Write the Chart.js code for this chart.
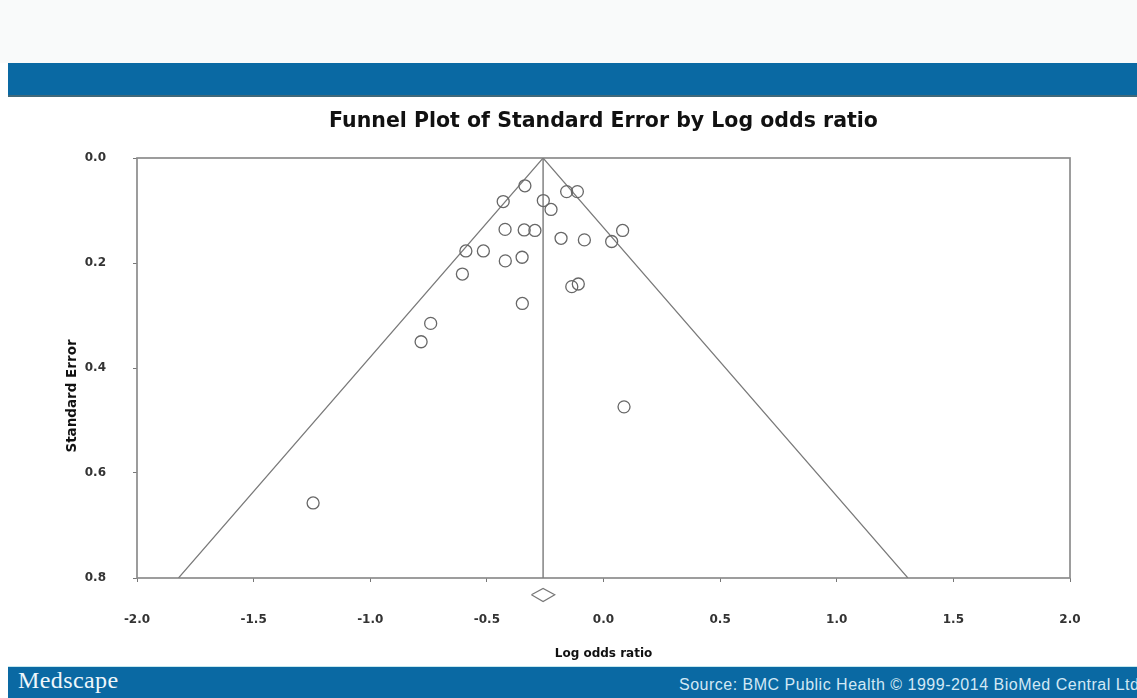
<!DOCTYPE html>
<html>
<head>
<meta charset="utf-8">
<title>Funnel Plot of Standard Error by Log odds ratio</title>
<script src="https://cdn.jsdelivr.net/npm/chart.js@4.4.1/dist/chart.umd.min.js"></script>
<style>
  html, body { margin: 0; padding: 0; background: #ffffff; }
  body { width: 1137px; height: 698px; position: relative; overflow: hidden;
         font-family: "Liberation Sans", Arial, sans-serif; }
  #top { position: absolute; left: 0; top: 0; width: 1137px; height: 63px; background: #f9fafa; }
  #band { position: absolute; left: 8px; top: 63px; width: 1129px; height: 32px;
          background: #0a69a3; border-bottom: 2px solid #41697a; }
  #wrap { position: absolute; left: 0; top: 97px; width: 1137px; height: 570px; }
  #foot { position: absolute; left: 8px; top: 666px; width: 1129px; height: 32px;
          background: #0a69a3; border-top: 1px solid #c4e8ee; }
  #logo { position: absolute; left: 10px; top: 0px; font-family: "Liberation Serif", "DejaVu Serif", serif;
          font-size: 24px; color: #eef6fb; letter-spacing: 0.4px; }
  #src { position: absolute; left: 671px; top: 9px; font-size: 16px; color: #d2e8f5;
         letter-spacing: 0.5px; white-space: nowrap; }
</style>
</head>
<body>
<div id="top"></div>
<div id="band"></div>
<div id="wrap"><canvas id="funnel" width="1137" height="570"></canvas></div>
<div id="foot">
  <div id="logo">Medscape</div>
  <div id="src">Source: BMC Public Health © 1999-2014 BioMed Central Ltd</div>
</div>
<script>
// Study estimates: log odds ratio and its standard error
const logOddsRatio = [
  -0.337, -0.430, -0.158, -0.112, -0.258, -0.225, -0.422, -0.340, -0.294,
  -0.182, -0.082, 0.035, 0.082, -0.590, -0.515, -0.421, -0.349, -0.605,
  -0.136, -0.108, -0.348, -0.741, -0.782, -1.245, 0.088
];
const standardError = [
  0.053, 0.083, 0.064, 0.064, 0.081, 0.098, 0.136, 0.137, 0.138,
  0.153, 0.156, 0.159, 0.138, 0.177, 0.177, 0.196, 0.189, 0.221,
  0.245, 0.240, 0.277, 0.315, 0.350, 0.657, 0.474
];

// Pooled estimate line and 95% pseudo-confidence funnel
const pooledX = [-0.259, -0.259];
const pooledY = [0.0, 0.8];
const funnelX = [-1.822, -0.259, 1.305];
const funnelY = [0.8, 0.0, 0.8];

// Diamond for the pooled estimate, below the axis
const diamondX = [-0.309, -0.259, -0.209, -0.259, -0.309];
const diamondY = [0.832, 0.820, 0.832, 0.845, 0.832];

// Axis ticks
const xTicks = [-2.0, -1.5, -1.0, -0.5, 0.0, 0.5, 1.0, 1.5, 2.0];
const yTicks = [0.0, 0.2, 0.4, 0.6, 0.8];

const toPoints = (xs, ys) => xs.map((x, i) => ({ x: x, y: ys[i] }));

const lineGray = '#7a7a7a';
const fontFamily = '"DejaVu Sans", "Liberation Sans", Arial, sans-serif';
const tickFont = { family: fontFamily, size: 12, weight: 'bold' };

// Frame around the plotting area
const plotFrame = {
  id: 'plotFrame',
  beforeDatasetsDraw(chart) {
    const a = chart.chartArea, ctx = chart.ctx;
    ctx.save();
    ctx.strokeStyle = '#8c8c8c';
    ctx.lineWidth = 1.7;
    ctx.strokeRect(a.left, a.top, a.right - a.left, a.bottom - a.top);
    ctx.restore();
  }
};

// Vertical y-axis title
const yTitle = {
  id: 'yTitle',
  afterDraw(chart) {
    const ctx = chart.ctx;
    ctx.save();
    ctx.translate(72, 299);
    ctx.rotate(-Math.PI / 2);
    ctx.font = 'bold 13.5px ' + fontFamily;
    ctx.fillStyle = '#111';
    ctx.textAlign = 'center';
    ctx.textBaseline = 'middle';
    ctx.fillText('Standard Error', 0, 0);
    ctx.restore();
  }
};

new Chart(document.getElementById('funnel'), {
  type: 'scatter',
  data: {
    datasets: [
      {
        label: 'Studies',
        data: toPoints(logOddsRatio, standardError),
        pointRadius: 6,
        pointBorderWidth: 1.3,
        pointBorderColor: '#676767',
        pointBackgroundColor: 'rgba(0,0,0,0)',
        showLine: false
      },
      {
        label: 'Pooled',
        data: toPoints(pooledX, pooledY),
        showLine: true,
        pointRadius: 0,
        borderColor: lineGray,
        borderWidth: 1.4
      },
      {
        label: 'Funnel',
        data: toPoints(funnelX, funnelY),
        showLine: true,
        pointRadius: 0,
        borderColor: lineGray,
        borderWidth: 1.2
      },
      {
        label: 'Diamond',
        data: toPoints(diamondX, diamondY),
        showLine: true,
        pointRadius: 0,
        borderColor: '#777',
        borderWidth: 1.2,
        clip: false
      }
    ]
  },
  options: {
    responsive: false,
    animation: false,
    layout: { padding: { left: 0, right: 67, top: 0, bottom: 0 } },
    plugins: {
      legend: { display: false },
      tooltip: { enabled: false },
      title: {
        display: true,
        text: 'Funnel Plot of Standard Error by Log odds ratio',
        fullSize: false,
        color: '#111',
        font: { family: fontFamily, size: 20.5, weight: 'bold' },
        padding: { top: 12.7, bottom: 23.7 }
      }
    },
    scales: {
      x: {
        type: 'linear',
        min: xTicks[0],
        max: xTicks[xTicks.length - 1],
        afterBuildTicks: s => { s.ticks = xTicks.map(v => ({ value: v })); },
        afterFit: s => { s.height = 89; },
        ticks: {
          color: '#333',
          font: tickFont,
          padding: 31,
          maxRotation: 0,
          callback: v => Number(v).toFixed(1)
        },
        grid: { drawOnChartArea: false, drawTicks: true, tickLength: 4, color: '#777' },
        border: { display: false },
        title: {
          display: true,
          text: 'Log odds ratio',
          color: '#111',
          font: { family: fontFamily, size: 12, weight: 'bold' },
          padding: { top: 0, bottom: 6 }
        }
      },
      y: {
        type: 'linear',
        reverse: true,
        min: yTicks[0],
        max: yTicks[yTicks.length - 1],
        afterBuildTicks: s => { s.ticks = yTicks.map(v => ({ value: v })); },
        afterFit: s => { s.width = 137; },
        ticks: {
          color: '#333',
          font: tickFont,
          padding: 27,
          callback: v => Number(v).toFixed(1)
        },
        grid: { drawOnChartArea: false, drawTicks: true, tickLength: 4, color: '#777' },
        border: { display: false },
        title: { display: false }
      }
    }
  },
  plugins: [plotFrame, yTitle]
});
</script>
</body>
</html>
